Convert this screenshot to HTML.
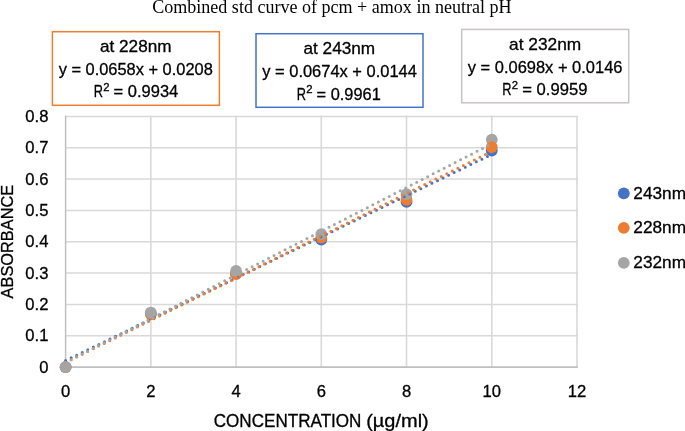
<!DOCTYPE html>
<html><head><meta charset="utf-8"><style>
html,body{margin:0;padding:0;background:#fff;overflow:hidden;}
svg{display:block;}
text{font-family:"Liberation Sans", sans-serif;fill:#000;stroke:#000;stroke-width:0.3px;}
.ttl{stroke-width:0.0px;}
.ax{font-size:16.6px;}
.bx{font-size:16.6px;}
.at{font-size:17.6px;}
.at2{font-size:16.9px;}
.ttl{font-family:"Liberation Serif", serif;font-size:18px;}
</style></head><body>
<svg width="685" height="431" viewBox="0 0 685 431">
<rect x="0" y="0" width="685" height="431" fill="#fff"/>
<line x1="65.60" y1="335.72" x2="577.80" y2="335.72" stroke="#d9d9d9" stroke-width="1.5"/>
<line x1="65.60" y1="304.39" x2="577.80" y2="304.39" stroke="#d9d9d9" stroke-width="1.5"/>
<line x1="65.60" y1="273.06" x2="577.80" y2="273.06" stroke="#d9d9d9" stroke-width="1.5"/>
<line x1="65.60" y1="241.73" x2="577.80" y2="241.73" stroke="#d9d9d9" stroke-width="1.5"/>
<line x1="65.60" y1="210.39" x2="577.80" y2="210.39" stroke="#d9d9d9" stroke-width="1.5"/>
<line x1="65.60" y1="179.06" x2="577.80" y2="179.06" stroke="#d9d9d9" stroke-width="1.5"/>
<line x1="65.60" y1="147.73" x2="577.80" y2="147.73" stroke="#d9d9d9" stroke-width="1.5"/>
<line x1="65.60" y1="116.40" x2="577.80" y2="116.40" stroke="#d9d9d9" stroke-width="1.5"/>
<line x1="150.83" y1="115.65" x2="150.83" y2="367.05" stroke="#d9d9d9" stroke-width="1.6"/>
<line x1="236.07" y1="115.65" x2="236.07" y2="367.05" stroke="#d9d9d9" stroke-width="1.6"/>
<line x1="321.30" y1="115.65" x2="321.30" y2="367.05" stroke="#d9d9d9" stroke-width="1.6"/>
<line x1="406.53" y1="115.65" x2="406.53" y2="367.05" stroke="#d9d9d9" stroke-width="1.6"/>
<line x1="491.77" y1="115.65" x2="491.77" y2="367.05" stroke="#d9d9d9" stroke-width="1.6"/>
<line x1="577.00" y1="115.65" x2="577.00" y2="367.05" stroke="#d9d9d9" stroke-width="1.6"/>
<line x1="65.60" y1="115.65" x2="65.60" y2="367.95" stroke="#bfbfbf" stroke-width="1.5"/>
<line x1="64.85" y1="367.05" x2="577.80" y2="367.05" stroke="#bfbfbf" stroke-width="1.8"/>
<circle cx="65.60" cy="367.05" r="5.9" fill="#4472c4"/>
<circle cx="65.60" cy="367.05" r="5.9" fill="#ed7d31"/>
<circle cx="65.60" cy="367.05" r="5.9" fill="#a5a5a5"/>
<circle cx="150.83" cy="313.79" r="5.9" fill="#4472c4"/>
<circle cx="150.83" cy="314.01" r="5.9" fill="#ed7d31"/>
<circle cx="150.83" cy="312.53" r="5.9" fill="#a5a5a5"/>
<circle cx="236.07" cy="273.68" r="5.9" fill="#4472c4"/>
<circle cx="236.07" cy="274.00" r="5.9" fill="#ed7d31"/>
<circle cx="236.07" cy="270.99" r="5.9" fill="#a5a5a5"/>
<circle cx="321.30" cy="239.53" r="5.9" fill="#4472c4"/>
<circle cx="321.30" cy="237.65" r="5.9" fill="#ed7d31"/>
<circle cx="321.30" cy="234.08" r="5.9" fill="#a5a5a5"/>
<circle cx="406.53" cy="201.93" r="5.9" fill="#4472c4"/>
<circle cx="406.53" cy="199.74" r="5.9" fill="#ed7d31"/>
<circle cx="406.53" cy="194.10" r="5.9" fill="#a5a5a5"/>
<circle cx="491.77" cy="150.55" r="5.9" fill="#4472c4"/>
<circle cx="491.77" cy="139.59" r="5.9" fill="#a5a5a5"/>
<circle cx="491.77" cy="147.10" r="5.9" fill="#ed7d31"/>
<line x1="65.60" y1="360.53" x2="491.77" y2="154.37" stroke="#4472c4" stroke-width="3" stroke-linecap="round" stroke-dasharray="0 6.166"/>
<line x1="65.60" y1="362.54" x2="491.77" y2="151.37" stroke="#ed7d31" stroke-width="3" stroke-linecap="round" stroke-dasharray="0 6.166"/>
<line x1="65.60" y1="362.48" x2="491.77" y2="143.78" stroke="#a5a5a5" stroke-width="3" stroke-linecap="round" stroke-dasharray="0 6.166"/>
<rect x="52.40" y="31.70" width="167.00" height="73.60" fill="#fff" stroke="#ed7d31" stroke-width="1.5"/>
<rect x="256.00" y="33.70" width="167.00" height="73.60" fill="#fff" stroke="#4472c4" stroke-width="1.5"/>
<rect x="461.70" y="29.40" width="167.00" height="73.40" fill="#fff" stroke="#c8c4c6" stroke-width="1.5"/>
<circle cx="623.8" cy="193.3" r="5.9" fill="#4472c4"/>
<circle cx="623.8" cy="227.8" r="5.9" fill="#ed7d31"/>
<circle cx="623.8" cy="262.8" r="5.9" fill="#a5a5a5"/>
<g style="filter:grayscale(1)">
<text x="331.89" y="13.40" text-anchor="middle" class="ttl" textLength="359.43" lengthAdjust="spacingAndGlyphs">Combined std curve of pcm + amox in neutral pH</text>
<text x="135.76" y="52.20" text-anchor="middle" class="bx" textLength="71.39" lengthAdjust="spacingAndGlyphs">at 228nm</text>
<text x="135.73" y="74.80" text-anchor="middle" class="bx" textLength="154.12" lengthAdjust="spacingAndGlyphs">y = 0.0658x + 0.0208</text>
<text x="93.65" y="97.10" class="bx" textLength="9.24" lengthAdjust="spacingAndGlyphs">R</text>
<text x="103.13" y="90.90" style="font-size:11.3px">2</text>
<text x="113.59" y="97.10" class="bx" textLength="64.69" lengthAdjust="spacingAndGlyphs">= 0.9934</text>
<text x="339.34" y="54.20" text-anchor="middle" class="bx" textLength="71.70" lengthAdjust="spacingAndGlyphs">at 243nm</text>
<text x="339.57" y="76.80" text-anchor="middle" class="bx" textLength="154.53" lengthAdjust="spacingAndGlyphs">y = 0.0674x + 0.0144</text>
<text x="296.65" y="99.50" class="bx" textLength="9.24" lengthAdjust="spacingAndGlyphs">R</text>
<text x="306.13" y="93.30" style="font-size:11.3px">2</text>
<text x="316.60" y="99.50" class="bx" textLength="64.18" lengthAdjust="spacingAndGlyphs">= 0.9961</text>
<text x="545.19" y="49.90" text-anchor="middle" class="bx" textLength="72.14" lengthAdjust="spacingAndGlyphs">at 232nm</text>
<text x="545.12" y="72.50" text-anchor="middle" class="bx" textLength="154.70" lengthAdjust="spacingAndGlyphs">y = 0.0698x + 0.0146</text>
<text x="502.35" y="95.30" class="bx" textLength="9.24" lengthAdjust="spacingAndGlyphs">R</text>
<text x="511.83" y="89.10" style="font-size:11.3px">2</text>
<text x="522.29" y="95.30" class="bx" textLength="65.20" lengthAdjust="spacingAndGlyphs">= 0.9959</text>
<text x="48.40" y="372.65" text-anchor="end" class="ax">0</text>
<text x="48.40" y="341.32" text-anchor="end" class="ax">0.1</text>
<text x="48.40" y="309.99" text-anchor="end" class="ax">0.2</text>
<text x="48.40" y="278.66" text-anchor="end" class="ax">0.3</text>
<text x="48.40" y="247.33" text-anchor="end" class="ax">0.4</text>
<text x="48.40" y="215.99" text-anchor="end" class="ax">0.5</text>
<text x="48.40" y="184.66" text-anchor="end" class="ax">0.6</text>
<text x="48.40" y="153.33" text-anchor="end" class="ax">0.7</text>
<text x="48.40" y="122.00" text-anchor="end" class="ax">0.8</text>
<text x="65.60" y="396.50" text-anchor="middle" class="ax">0</text>
<text x="150.83" y="396.50" text-anchor="middle" class="ax">2</text>
<text x="236.07" y="396.50" text-anchor="middle" class="ax">4</text>
<text x="321.30" y="396.50" text-anchor="middle" class="ax">6</text>
<text x="406.53" y="396.50" text-anchor="middle" class="ax">8</text>
<text x="491.77" y="396.50" text-anchor="middle" class="ax">10</text>
<text x="577.00" y="396.50" text-anchor="middle" class="ax">12</text>
<text x="633.30" y="198.55" text-anchor="start" class="ax" textLength="52.70" lengthAdjust="spacingAndGlyphs">243nm</text>
<text x="633.30" y="233.05" text-anchor="start" class="ax" textLength="52.70" lengthAdjust="spacingAndGlyphs">228nm</text>
<text x="633.30" y="268.05" text-anchor="start" class="ax" textLength="52.70" lengthAdjust="spacingAndGlyphs">232nm</text>
<text x="287.60" y="426.60" text-anchor="middle" class="at" textLength="147.75" lengthAdjust="spacingAndGlyphs">CONCENTRATION</text>
<text x="397.46" y="426.60" text-anchor="middle" class="at" textLength="62.58" lengthAdjust="spacingAndGlyphs">(µg/ml)</text>
<text transform="translate(13.35 241.63) rotate(-90)" x="0" y="0" text-anchor="middle" class="at2" textLength="113.53" lengthAdjust="spacingAndGlyphs">ABSORBANCE</text>
</g>
</svg>
</body></html>
